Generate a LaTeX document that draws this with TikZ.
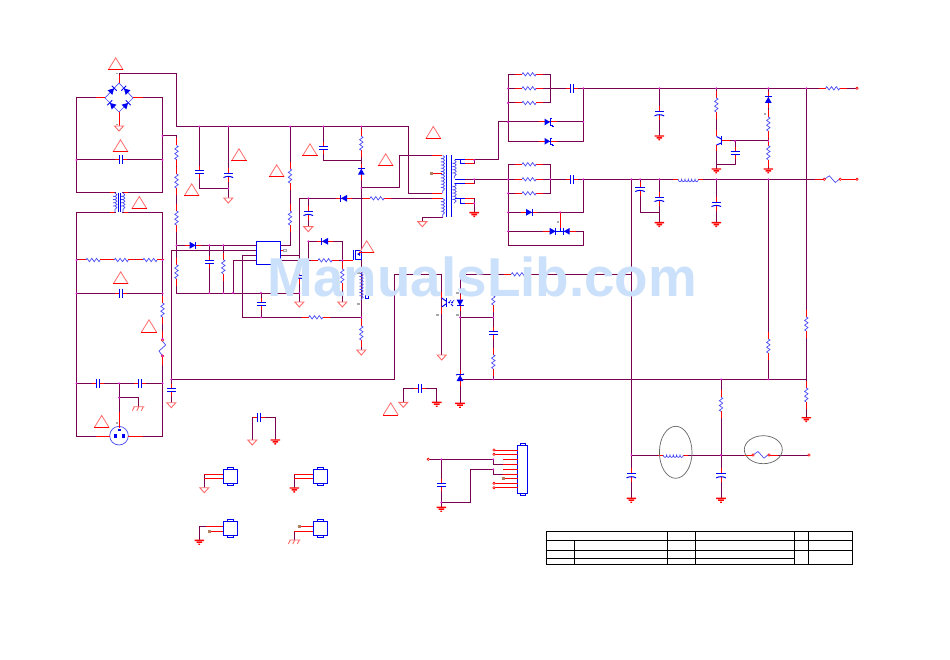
\documentclass[tikz,border=0pt]{standalone}
\usepackage{fontspec}
\setmainfont{Liberation Sans}
\usetikzlibrary{decorations.pathmorphing}
\definecolor{wirec}{HTML}{7A0050}
\definecolor{leadc}{HTML}{FF0000}
\definecolor{compc}{HTML}{0000F0}
\definecolor{thinc}{HTML}{4A4AF5}
\definecolor{dotc}{HTML}{E020D0}
\definecolor{gpink}{HTML}{FF6A6A}
\definecolor{markc}{HTML}{B08060}
\definecolor{markg}{HTML}{A8A8A8}
\definecolor{wmark}{HTML}{CBE0FA}
\tikzset{
 wire/.style={draw=wirec,line width=1pt},
 leadw/.style={draw=leadc,line width=1pt},
 body/.style={draw=compc,line width=1pt},
 thinw/.style={draw=thinc,line width=.7pt},
 frame/.style={draw=black,line width=.9pt},
 coilv/.style={thinw,decorate,decoration={coil,amplitude=1.9,segment length=3.2}},
 pics/resi/.style={code={
  \draw[leadw] (-14,0)--(14,0);
  \fill[white] (-7,-2.2) rectangle (7,2.2);
  \draw[thinw] (-7,0)--(-6,-1.7)--(-3.6,1.7)--(-1.2,-1.7)--(1.2,1.7)--(3.6,-1.7)--(6,1.7)--(7,0);}},
 pics/capa/.style={code={
  \fill[white] (-1.5,-1) rectangle (1.5,1);
  \draw[leadw] (-6,0)--(-1.5,0) (1.5,0)--(6,0);
  \draw[body] (-1.5,-4.5)--(-1.5,4.5) (1.5,-4.5)--(1.5,4.5);}},
 pics/pcapa/.style={code={
  \fill[white] (-1.5,-1) rectangle (1.5,1);
  \draw[leadw] (-7,0)--(-1.5,0) (1.5,0)--(7,0);
  \draw[body] (-1.5,-4.8)--(-1.5,4.8);
  \draw[body] (2.6,-4.8) .. controls (1,-2) and (1,2) .. (2.6,4.8);}},
 pics/dio/.style={code={
  \fill[compc] (-3,-3.4)--(3,0)--(-3,3.4)--cycle;
  \draw[body] (3.2,-3.5)--(3.2,3.5);}},
 pics/diol/.style={code={
  \draw[leadw] (-8,0)--(8,0);
  \fill[compc] (-3,-3.4)--(3,0)--(-3,3.4)--cycle;
  \draw[body] (3.2,-3.5)--(3.2,3.5);}},
 pics/sdio/.style={code={
  \draw[leadw] (-9,0)--(9,0);
  \fill[compc] (-3.8,-3.4)--(1.8,0)--(-3.8,3.4)--cycle;
  \draw[body] (3.8,-3.2)--(1.9,-3.2)--(1.9,3.2)--(3.8,3.2)--(3.8,4.6)--(5.8,4.6);}},
 pics/gndp/.style={code={
  \draw[draw=gpink,line width=.9pt,fill=white] (-4.5,0)--(4.5,0)--(0,5)--cycle;}},
 pics/gndr/.style={code={
  \fill[leadc] (-4.8,-.7) rectangle (4.8,.7) (-2.8,1.2) rectangle (2.8,2.6) (-.9,3.2) rectangle (.9,4.5);}},
 pics/chas/.style={code={
  \draw[draw=gpink,line width=.9pt] (-5,0)--(6,0) (-4,0)--(-6,4) (.5,0)--(-1.5,4) (5,0)--(3,4);}},
 pics/warn/.style={code={
  \draw[draw=gpink,line width=.8pt] (-7.5,6)--(0,-6.2)--(7.5,6);
  \draw[leadc,line width=1pt] (-7.7,6)--(7.7,6);}},
 pics/vari/.style={code={
  \draw[leadw] (-17,0)--(17,0);
  \fill[white] (-8,-4) rectangle (8,4);
  \draw[thinw] (-8,0)--(-3,-3.5)--(3,3.2)--(8,-1);
  \draw[leadc,line width=.6pt,fill=white] (-8,0) circle (1.2) (8,0) circle (1.2);}},
 pics/indu/.style={code={
  \draw[leadw] (-15,0)--(15,0);
  \fill[white] (-10,-3) rectangle (10,2);
  \draw[thinw] (-10,0) arc (180:0:1.67 and 2.4) arc (180:0:1.67 and 2.4) arc (180:0:1.67 and 2.4) arc (180:0:1.67 and 2.4) arc (180:0:1.67 and 2.4) arc (180:0:1.67 and 2.4);}},
 pics/conn/.style={code={
  \draw[body] (0,0) rectangle (14,14);
  \draw[body] (4,0) rectangle (10,-1.8);
  \draw[body] (4,14) rectangle (10,15.8);}},
}
\newcommand\Wr[1]{\draw[wire] #1;}
\newcommand\Pc[3]{\pic[rotate=#3] at (#2) {#1};}
\newcommand\Dots[1]{\foreach \a/\b in {#1} {\fill[dotc] (\a,\b) circle (1.05);}}
\begin{document}
\begin{tikzpicture}[x=1pt,y=-1pt]
\useasboundingbox[fill=white] (0,0) rectangle (950,660);
% ---------- wires
\Wr{(119,83)--(119,74)--(176.5,74)--(176.5,126.5)--(408,126.5)--(408,193.3)--(442,193.3)}
\Wr{(105,98)--(76.5,98)--(76.5,193)--(116,193)}
\Wr{(133,98)--(162.5,98)--(162.5,193)--(122,193)}
\Wr{(76.5,160)--(162.5,160)}
\Wr{(162.5,136)--(176.5,136)--(176.5,293)--(299.3,293)}
\Wr{(199.3,126.5)--(199.3,188.3)--(228.3,188.3)}
\Wr{(228.3,126.5)--(228.3,198)}
\Wr{(290,126.5)--(290,245.3)--(280.7,245.3)}
\Wr{(176.5,245.3)--(256.3,245.3)}
\Wr{(256.3,250.3)--(171.3,250.3)--(171.3,402.7)}
\Wr{(171.3,379.3)--(394.3,379.3)--(394.3,274.3)--(441.7,274.3)--(441.7,355)}
\Wr{(256.3,255.3)--(242.3,255.3)--(242.3,317.3)--(361.3,317.3)}
\Wr{(256.3,260.3)--(233,260.3)--(233,293)}
\Wr{(209.3,245.3)--(209.3,293)}
\Wr{(223.3,245.3)--(223.3,293)}
\Wr{(261,293)--(261,317.3)}
\Wr{(280.7,260.3)--(350,260.3)}
\Wr{(280.7,255.3)--(299.3,255.3)}
\Wr{(299.3,302)--(299.3,198.3)--(443,198.3)}
\Wr{(308.3,198.3)--(308.3,226.7)}
\Wr{(308.3,260.3)--(308.3,241.3)--(342.3,241.3)--(342.3,302)}
\Wr{(323.3,126.5)--(323.3,160.3)--(361.3,160.3)}
\Wr{(361.3,126.5)--(361.3,250)}
\Wr{(361.3,260)--(361.3,350)}
\Wr{(361.3,188)--(399.5,188)--(399.5,155.3)--(442,155.3)}
% left lower
\Wr{(116,212.3)--(76.5,212.3)--(76.5,436)--(110,436)}
\Wr{(122,212.3)--(162.5,212.3)--(162.5,436)--(128,436)}
\Wr{(76.5,260)--(162.5,260)}
\Wr{(76.5,293.3)--(162.5,293.3)}
\Wr{(76.5,383.3)--(162.5,383.3)}
\Wr{(119,383.3)--(119,427)}
\Wr{(119,397.7)--(138.3,397.7)--(138.3,406.7)}
\Wr{(252.3,440)--(252.3,417)--(275.3,417)--(275.3,440)}
% connectors
\Wr{(204.3,474.3)--(204.3,487.7)}
\Wr{(294.3,474.3)--(294.3,488)}
\Wr{(199.3,540.3)--(199.3,526.3)--(205,526.3)}
\Wr{(294.3,540)--(294.3,531.3)}
% transformer and secondary
\Wr{(442.5,217.3)--(422.3,217.3)--(422.3,221.7)}
\Wr{(465,160)--(498.3,160)--(498.3,122)--(583.3,122)}
\Wr{(474.2,160)--(474.2,164)--(465,164)}
\Wr{(465,179.3)--(820,179.3)}
\Wr{(474.2,179.3)--(474.2,183.3)--(465,183.3)}
\Wr{(465,198.3)--(474.2,198.3)--(474.2,212.7)}
\Wr{(465,203.3)--(474.2,203.3)}
\Wr{(550.3,74.3)--(508,74.3)--(508,141.3)--(583.3,141.3)--(583.3,88.3)}
\Wr{(508,88.3)--(857,88.3)}
\Wr{(508,103)--(550.3,103)--(550.3,74.3)}
\Wr{(550.3,164.3)--(508,164.3)--(508,245.3)--(583.3,245.3)--(583.3,231.3)--(508,231.3)}
\Wr{(508,193.3)--(550.3,193.3)--(550.3,164.3)}
\Wr{(508,212.3)--(583.3,212.3)--(583.3,179.3)}
% output section
\Wr{(659.3,88.3)--(659.3,136)}
\Wr{(716.3,88.3)--(716.3,136.5)}
\Wr{(716.3,145)--(716.3,169)}
\Wr{(722,141)--(768.3,141)}
\Wr{(735,141)--(735,164.3)--(716.3,164.3)}
\Wr{(768.3,88.3)--(768.3,169)}
\Wr{(806.3,88.3)--(806.3,417.7)}
\Wr{(631.3,179.3)--(631.3,498.3)}
\Wr{(640,179.3)--(640,212.3)--(659.3,212.3)}
\Wr{(659.3,179.3)--(659.3,222.7)}
\Wr{(716.3,179.3)--(716.3,222.7)}
\Wr{(768.3,179.3)--(768.3,379.3)}
\Wr{(721,379.3)--(721,498.3)}
\Wr{(631.3,455)--(809,455)}
\Wr{(460,274.3)--(631.3,274.3)}
\Wr{(460,274.3)--(460,403.3)}
\Wr{(460,317.3)--(493.3,317.3)}
\Wr{(493.3,274.3)--(493.3,379.3)}
\Wr{(460,379.3)--(806.3,379.3)}
\Wr{(403.3,402.3)--(403.3,388.3)--(436.7,388.3)--(436.7,402.3)}
% bottom connector
\Wr{(428.3,459.3)--(493.3,459.3)--(493.3,464.3)}
\Wr{(493.3,469.3)--(470,469.3)--(470,502.3)--(441.3,502.3)}
\Wr{(493.3,469.3)--(493.3,474)}
\Wr{(441.3,459.3)--(441.3,507.3)}
% ---------- bridge
\draw[thinw] (119,83)--(133,98)--(119,112)--(105,98)--cycle;
\draw[leadw] (119,75)--(119,83) (119,112)--(119,126) (96,98)--(105,98) (133,98)--(143,98);
\Pc{dio}{112,90.5}{45} \Pc{dio}{126,90.5}{135}
\Pc{dio}{112,105}{135} \Pc{dio}{126,105}{45}
% transformer left
\draw[body] (118,193)--(118,212) (120,193)--(120,212);
\draw[coilv] (115,193)--(115,212);
\draw[coilv] (123,193)--(123,212);
\draw[leadw] (110,193)--(114,193) (124,193)--(128,193) (110,212.3)--(114,212.3) (124,212.3)--(128,212.3);
% ---------- resistors
\foreach \a/\b in {176.5/152.5,176.5/181,176.5/218,176.5/271.7,223.3/266.7,290/176,290/218,361.3/143.3,342.3/276,361.3/333,162.5/310,493.3/298,493.3/361.7,716.3/105,768.3/124,768.3/152.7,806.3/324,806.3/395,768.3/346,721/404.3}
 {\pic[rotate=90] at (\a,\b) {resi};}
\foreach \a/\b in {93/260,121.3/260,150/260,325/260.3,315.7/317.3,377/198.3,529/74.3,529/88.3,529/103,529/164.3,529/179.3,529/193.3,518.3/274.3,832.7/88.3}
 {\pic at (\a,\b) {resi};}
% ---------- capacitors
\foreach \a/\b in {121.3/160,121.3/293.3,97.7/383.3,140.3/383.3,259/417,420/388.3,571.7/88.3,571.7/179.3}
 {\pic at (\a,\b) {capa};}
\foreach \a/\b in {199.3/171.7,323.3/147.7,209.3/262.3,261/304.3,171.3/390,735/152.7,493.3/333,441.3/485}
 {\pic[rotate=90] at (\a,\b) {capa};}
\foreach \a/\b in {228.3/175,308.3/213,299.3/276.7,659.3/113.3,640/189,659.3/199,716.3/204,631.3/475.3,721/475.3}
 {\pic[rotate=-90] at (\a,\b) {pcapa};}
% ---------- diodes
\Pc{diol}{192.7,245.3}{0}
\Pc{diol}{344,198.3}{180}
\Pc{diol}{325,241.3}{180}
\Pc{diol}{361.3,171.7}{90}
\Pc{diol}{768.3,100}{90}
\Pc{diol}{529,212.3}{0}
\Pc{diol}{460,302.7}{-90}
\Pc{diol}{460,378}{90}
\draw[body] (456,375)--(457.5,374.5) (462.5,374.5)--(464,374);
\Pc{sdio}{548.3,122}{0}
\Pc{sdio}{548.3,141.3}{0}
\draw[leadw] (543,231.3)--(552,231.3) (568,231.3)--(576,231.3);
\draw[body] (553,231.3)--(567,231.3);
\Pc{dio}{552.7,231.3}{0}
\Pc{dio}{566.7,231.3}{180}
\draw[leadw] (560,212.3)--(560,228);
\draw[body] (560,228)--(560,231.3);
% ---------- IC
\fill[white] (256.3,241.3) rectangle (280.7,264.7);
\draw[body] (256.3,241.3) rectangle (280.7,264.7);
\draw[leadw] (280.7,250.3)--(283.5,250.3);
\draw[draw=markg,line width=.7pt] (283.5,249) rectangle (286.7,251.6);
% ---------- MOSFET
\draw[body] (353.3,250)--(353.3,260.3) (355.5,250)--(355.5,260.3);
\draw[body] (355.5,251)--(361.3,251) (355.5,259.5)--(361.3,259.5)--(361.3,251);
\draw[leadw] (342.3,260.3)--(353.3,260.3);
\fill[compc] (357,254)--(360,252.5)--(360,256)--cycle;
% coil under MOSFET
\draw[coilv] (361.3,270)--(361.3,300);
\draw[body] (365.3,295)--(365.3,298.5)--(368.6,298.5)--(368.6,295);
% ---------- main transformer
\draw[body] (446.3,155.3)--(446.3,217) (451.3,155.3)--(451.3,217);
\draw[coilv] (442.7,155.3)--(442.7,193.3);
\draw[coilv] (442.7,198.3)--(442.7,217.3);
\draw[coilv] (454.3,160)--(454.3,178.3);
\draw[coilv] (454.3,183.3)--(454.3,203.3);
\draw[leadw] (432,155.3)--(442,155.3) (432,193.3)--(442,193.3) (432,198.3)--(442,198.3);
\draw[leadw] (431.7,174)--(442,174);
\draw[body] (455,160)--(465,160) (460,160)--(460,164)--(465,164);
\draw[body] (455,179.3)--(465,179.3) (455,183.3)--(465,183.3);
\draw[body] (455,198.3)--(465,198.3) (460,198.3)--(460,203.3)--(465,203.3);
\draw[leadw] (465,160)--(474,160) (465,164)--(474,164) (465,183.3)--(474,183.3) (465,198.3)--(474,198.3) (465,203.3)--(474,203.3);
% ---------- opto
\draw[leadw] (441.7,292)--(441.7,298) (441.7,307)--(441.7,314);
\draw[body] (441.7,298)--(446,301) (446,304)--(441.7,307);
\draw[body] (446.3,298)--(446.3,307);
\draw[thinw,line width=.8pt] (451,300)--(449,302.5) (454,300)--(452,302.5);
\fill[compc] (449,302.5) circle (1) (452,302.5) circle (1);
\draw[body] (451,304)--(453,306);
% ---------- socket
\draw[thinw,line width=.7pt] (119,435.7) circle (9.3);
\fill[compc] (113.5,433.7) rectangle (116.5,437.7);
\fill[compc] (121.8,433.7) rectangle (124.8,437.7);
\fill[compc] (117.5,428.5) rectangle (120.5,431);
\draw[leadw] (119,412)--(119,428) (96,436)--(110,436) (128,436)--(143,436);
% ---------- varistors, inductors
\pic[rotate=90] at (162.5,348) {vari};
\Pc{vari}{832.3,179.3}{0}
\draw[leadw] (849,179.3)--(857,179.3);
\Pc{vari}{761,455}{0}
\Pc{indu}{688.3,179.3}{0}
\Pc{indu}{673.3,455}{0}
\draw[markg!60!black,line width=.7pt] (675.7,452.3) ellipse (16.3 and 26);
\draw[markg!60!black,line width=.7pt] (763.3,449.7) ellipse (19 and 14);
% ---------- transistor
\draw[body] (721.3,136)--(721.3,145.5);
\draw[body] (721.3,139)--(716.5,136.5) (721.3,143)--(716.5,145);
\draw[leadw] (716.3,130)--(716.3,136.5) (716.3,145)--(716.3,151) (722,141)--(730,141);
% ---------- grounds
\foreach \a/\b in {119/126,228.3/198,171.3/402.7,252.3/440,308.3/226.7,299.3/302,342.3/302,361.3/350,422.3/221.7,441.7/355,403.3/402.3,204.3/487.7}
 {\pic at (\a,\b) {gndp};}
\foreach \a/\b in {275.3/440,436.7/402.3,460/403.3,474.2/212.7,659.3/136,716.3/169,768.3/169,659.3/222.7,716.3/222.7,806.3/417.7,631.3/498.3,721/498.3,294.3/488,199.3/540.3,441.3/507.3}
 {\pic at (\a,\b) {gndr};}
\pic at (138.3,406.7) {chas};
\pic at (294.3,540) {chas};
% ---------- warning triangles
\foreach \a/\b in {115.7/64,120.5/146,239/155,191.7/190,276.7/171,310/150,385.7/160,366.7/247,433.3/132.7,139.3/202.7,120.7/278,149/326,101.7/421.7,390.7/409}
 {\pic at (\a,\b) {warn};}
% ---------- connectors
\foreach \a/\b in {223.3/469.3,313.3/469.3,223.3/521.3,313.3/521.3}
 {\pic at (\a,\b) {conn};}
\draw[leadw] (204.3,474.3)--(223.3,474.3) (204.3,478.3)--(223.3,478.3);
\draw[leadw] (294.3,474.3)--(313.3,474.3) (294.3,478.3)--(313.3,478.3);
\draw[leadw] (205,526.3)--(223.3,526.3) (209,531.3)--(223.3,531.3);
\draw[leadw] (299,526.3)--(313.3,526.3) (294.3,531.3)--(313.3,531.3);
\draw[wire] (199.3,526.3)--(206,526.3);
\draw[body] (517.7,445.3) rectangle (527.3,493.3);
\draw[body] (520,445.3) rectangle (525,443.6);
\draw[body] (520,493.3) rectangle (525,495);
\foreach \b in {450,454.3,459.3,464.3,469.3,474,483.3,487.7}
 {\draw[leadw] (503,\b)--(517.7,\b);}
\draw[leadw] (494,450)--(503,450) (494,454.3)--(503,454.3) (494,483.3)--(503,483.3) (494,487.7)--(503,487.7) (503,478.3)--(517.7,478.3);
\draw[wire] (493.3,464.3)--(503,464.3) (493.3,474)--(503,474);
\foreach \a/\b in {857/88.3,857/179.3,809/455,428.3/459.3,494/450,494/454.3,494/483.3,494/487.7}
 {\draw[leadc,line width=.6pt,fill=white] (\a,\b) circle (1.2);}
% no-connect marks
\foreach \a/\b in {431.7/174,209/531.3,299/526.3,503/478.3}
 {\fill[markc] (\a-1.5,\b-1.5) rectangle (\a+1.5,\b+1.5);}
% small grey ticks
\foreach \a/\b in {117/73.5,117/124.5,117/423,358.5/273,358.5/304,437.5/293,437.5/315,457.5/293,457.5/315,765/114,558/222}
 {\fill[markg] (\a-1.2,\b-.6) rectangle (\a+1.2,\b+.6);}
% ---------- junction dots
\Dots{162.5/136,76.5/160,162.5/160,199.3/126.5,228.3/126.5,290/126.5,323.3/126.5,361.3/126.5,228.3/188.3,176.5/245.3,209.3/245.3,223.3/245.3,209.3/293,223.3/293,233/293,261/293,261/317.3,299.3/293,308.3/198.3,308.3/241.3,342.3/260.3,308.3/260.3,361.3/188,361.3/317.3,76.5/260,162.5/260,76.5/293.3,162.5/293.3,162.5/339,162.5/356,76.5/383.3,119/383.3,162.5/383.3,119/397.7,171.3/379.3,474.2/160,474.2/179.3,474.2/203.3,508/88.3,508/103,508/122,508/179.3,508/193.3,508/212.3,508/231.3,583.3/88.3,583.3/122,583.3/179.3,550.3/179.3,659.3/88.3,716.3/88.3,768.3/88.3,806.3/88.3,631.3/179.3,640/179.3,659.3/179.3,716.3/179.3,768.3/179.3,735/141,768.3/141,493.3/317.3,460/317.3,493.3/379.3,721/379.3,768.3/379.3,631.3/455,721/455,441.3/459.3,441.3/502.3,493.3/459.3,493.3/469.3,560/212.3}
% ---------- title block
\draw[frame] (546.3,531.3) rectangle (852.7,564.3);
\draw[frame] (546.3,540.3)--(852.7,540.3) (546.3,550.3)--(852.7,550.3) (546.3,558.3)--(794.3,558.3);
\draw[frame] (574.3,540.3)--(574.3,564.3) (667.3,531.3)--(667.3,564.3) (695.3,531.3)--(695.3,564.3) (794.3,531.3)--(794.3,564.3) (808.3,531.3)--(808.3,564.3);
% ---------- watermark
\node[anchor=base,inner sep=0pt,text=wmark,font=\fontsize{54.8}{60}\selectfont\bfseries] (mark) at (482.5,296) {ManualsLib.com};
\end{tikzpicture}
\end{document}
